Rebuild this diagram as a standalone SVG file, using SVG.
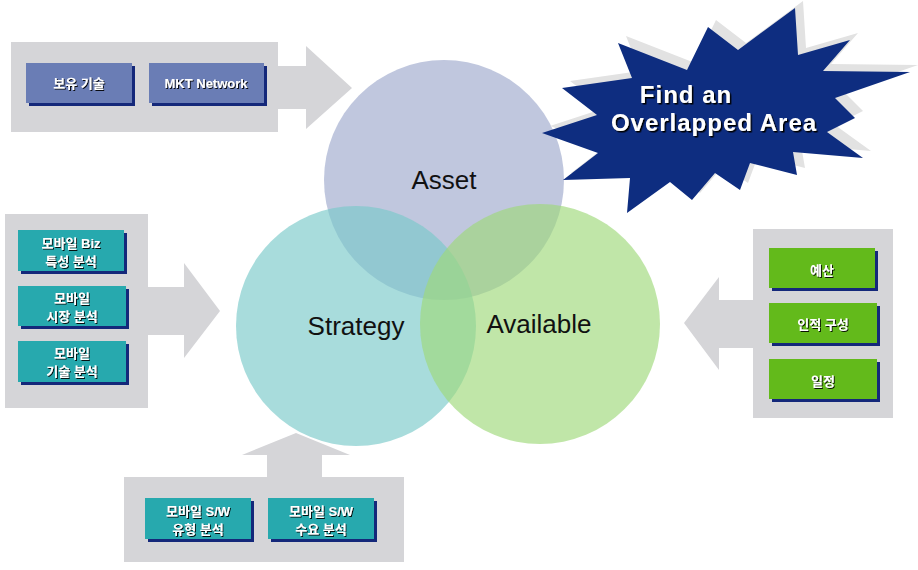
<svg xmlns="http://www.w3.org/2000/svg" width="918" height="570" viewBox="0 0 918 570">
<defs>
<style>
.panel{fill:#D5D5D8}
.shadow{fill:#14287A}
.blue{fill:#6A7DB5}
.teal{fill:#27A9AE}
.green{fill:#63BA1B}
.lbl{font-family:"Liberation Sans","Noto Sans CJK KR",sans-serif;font-weight:bold;font-size:13px;fill:#FFFFFF;text-anchor:middle;filter:url(#ts)}
.big{font-family:"Liberation Sans",Arial,sans-serif;font-size:26px;fill:#111111;text-anchor:middle}
.star{font-family:"Liberation Sans",Arial,sans-serif;font-weight:bold;font-size:24px;letter-spacing:1px;fill:#FFFFFF;text-anchor:middle;filter:url(#ts2)}
</style>
<filter id="ts" x="-10%" y="-20%" width="130%" height="150%">
<feDropShadow dx="1" dy="1" stdDeviation="0" flood-color="#000000" flood-opacity="0.9"/>
</filter>
<filter id="ts2" x="-10%" y="-20%" width="130%" height="150%">
<feDropShadow dx="1.5" dy="1.5" stdDeviation="0" flood-color="#000000" flood-opacity="1"/>
</filter>
</defs>
<rect width="918" height="570" fill="#FFFFFF"/>

<g id="connectors">
<path class="panel" d="M278,66 H306 V46 L352,88 L306,129 V109 H278 Z"/>
<path class="panel" d="M148,287 H184 V263 L220,311 L184,358 V335 H148 Z"/>
<path class="panel" d="M753,300 H719 V277 L684,323 L719,370 V348 H753 Z"/>
<path class="panel" d="M267,477 V455 H242 L296,433 L350,455 H322 V477 Z"/>
</g>

<g id="panel-asset">
<rect class="panel" x="11" y="42" width="267" height="90"/>
<g id="node-boyu">
<rect class="shadow" x="29" y="66" width="106" height="40"/>
<rect class="blue" x="26" y="63" width="106" height="40"/>
<text class="lbl" x="79" y="88">보유 기술</text>
</g>
<g id="node-mkt">
<rect class="shadow" x="152" y="66" width="115" height="40"/>
<rect class="blue" x="149" y="63" width="115" height="40"/>
<text class="lbl" x="206" y="88">MKT Network</text>
</g>
</g>

<g id="panel-strategy">
<rect class="panel" x="5" y="214" width="143" height="194"/>
<g id="node-biz">
<rect class="shadow" x="21" y="233" width="106" height="41"/>
<rect class="teal" x="18" y="230" width="106" height="41"/>
<text class="lbl" x="71" y="248">모바일 Biz</text>
<text class="lbl" x="71" y="266">특성 분석</text>
</g>
<g id="node-market">
<rect class="shadow" x="21" y="289" width="108" height="40"/>
<rect class="teal" x="18" y="286" width="108" height="40"/>
<text class="lbl" x="72" y="303">모바일</text>
<text class="lbl" x="72" y="321">시장 분석</text>
</g>
<g id="node-tech">
<rect class="shadow" x="21" y="344" width="108" height="41"/>
<rect class="teal" x="18" y="341" width="108" height="41"/>
<text class="lbl" x="72" y="358">모바일</text>
<text class="lbl" x="72" y="376">기술 분석</text>
</g>
</g>

<g id="panel-sw">
<rect class="panel" x="124" y="477" width="280" height="85"/>
<g id="node-swtype">
<rect class="shadow" x="148" y="501" width="106" height="41"/>
<rect class="teal" x="145" y="498" width="106" height="41"/>
<text class="lbl" x="198" y="516">모바일 S/W</text>
<text class="lbl" x="198" y="534">유형 분석</text>
</g>
<g id="node-swdemand">
<rect class="shadow" x="271" y="501" width="106" height="41"/>
<rect class="teal" x="268" y="498" width="106" height="41"/>
<text class="lbl" x="321" y="516">모바일 S/W</text>
<text class="lbl" x="321" y="534">수요 분석</text>
</g>
</g>

<g id="panel-available">
<rect class="panel" x="753" y="229" width="140" height="189"/>
<g id="node-budget">
<rect class="shadow" x="772" y="251" width="106" height="40"/>
<rect class="green" x="769" y="248" width="106" height="40"/>
<text class="lbl" x="822" y="275">예산</text>
</g>
<g id="node-staff">
<rect class="shadow" x="772" y="306" width="108" height="40"/>
<rect class="green" x="769" y="303" width="108" height="40"/>
<text class="lbl" x="823" y="329">인적 구성</text>
</g>
<g id="node-schedule">
<rect class="shadow" x="772" y="362" width="108" height="40"/>
<rect class="green" x="769" y="359" width="108" height="40"/>
<text class="lbl" x="823" y="386">일정</text>
</g>
</g>

<g id="circle-asset">
<circle cx="444" cy="180" r="120" fill="#9EA9CC" fill-opacity="0.65"/>
<text class="big" x="444" y="189">Asset</text>
</g>
<g id="circle-strategy">
<circle cx="356" cy="326" r="120" fill="#79C9C9" fill-opacity="0.65"/>
</g>
<g id="circle-available">
<circle cx="540" cy="324" r="120" fill="#9ED979" fill-opacity="0.65"/>
</g>
<text class="big" x="356" y="335">Strategy</text>
<text class="big" x="539" y="333">Available</text>

<g id="starburst">
<polygon fill="#E2E2E2" transform="translate(8,-7)" points="562,88 632,78 618,43 687,70 708,27 738,50 795,8 798,55 850,40 823,71 910,72 835,98 855,118 827,132 863,158 793,152 797,175 750,163 740,190 715,173 692,200 670,182 627,213 630,178 563,180 598,153 542,133 597,115"/>
<polygon fill="#0E2D80" points="562,88 632,78 618,43 687,70 708,27 738,50 795,8 798,55 850,40 823,71 910,72 835,98 855,118 827,132 863,158 793,152 797,175 750,163 740,190 715,173 692,200 670,182 627,213 630,178 563,180 598,153 542,133 597,115"/>
<text class="star" x="686" y="103">Find an</text>
<text class="star" x="714" y="131">Overlapped Area</text>
</g>
</svg>
